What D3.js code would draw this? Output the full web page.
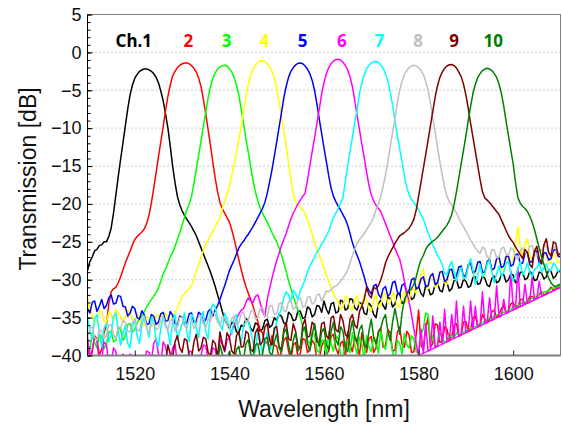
<!DOCTYPE html>
<html>

<head>
    <meta charset="utf-8">
    <style>
        body {
            margin: 0;
            background: #fff;
        }

        svg {
            display: block;
        }

        .axis text {
            font-family: 'Liberation Sans', Arial, sans-serif;
            font-size: 18px;
            fill: #111;
        }

        .axis .domain {
            display: none;
        }

        .axis-title {
            font-family: 'Liberation Sans', Arial, sans-serif;
            font-size: 23px;
            fill: #111;
        }

        .ch-label {
            font-family: 'Noto Sans', sans-serif;
            font-weight: bold;
            font-size: 17px;
        }
    </style>
</head>

<body>
    <svg width="562" height="426"></svg>

    <script src="https://cdn.jsdelivr.net/npm/d3@7"></script>

    <script>
        // spectra sampled every 0.5 nm from 1510 nm (one row = 5 nm)
        let wlStart = 1510
        let wlStep = 0.5

        let ch1 = [
            -28.8, -27.6, -27.0, -26.2, -26.0, -25.5, -25.4, -25.0, -25.0, -24.3,
            -23.2, -21.2, -18.8, -16.4, -14.1, -11.9, -9.7, -7.5, -5.6, -4.3,
            -3.4, -2.9, -2.5, -2.3, -2.2, -2.2, -2.3, -2.5, -2.8, -3.3,
            -4.0, -5.1, -6.4, -8.1, -10.0, -12.4, -15.0, -17.2, -19.0, -20.1,
            -20.9, -21.5, -22.0, -22.5, -23.0, -23.6, -24.2, -25.0, -25.8, -26.6,
            -27.4, -28.2, -29.0, -29.9, -30.9, -32.0, -33.0, -34.2, -35.2, -35.9,
            -36.4, -35.6, -35.8, -36.9, -37.0, -36.0, -36.2, -35.1, -35.5, -36.4,
            -36.8, -35.7, -35.9, -36.8, -36.5, -35.4, -35.2, -36.3, -36.0, -35.0,
            -35.4, -34.6, -34.8, -35.7, -35.9, -34.3, -34.6, -35.4, -35.3, -34.1,
            -34.2, -35.1, -35.0, -33.6, -33.8, -34.9, -34.6, -33.4, -33.5, -34.3,
            -32.8, -33.9, -34.5, -33.2, -33.0, -34.4, -34.2, -32.7, -32.9, -34.0,
            -33.8, -32.5, -32.6, -33.7, -34.0, -33.0, -33.2, -34.4, -34.6, -33.1,
            -33.5, -34.6, -35.0, -33.2, -32.7, -33.4, -33.9, -32.3, -32.5, -33.6,
            -33.2, -31.9, -31.8, -33.1, -33.0, -31.6, -31.5, -32.6, -32.4, -31.2,
            -30.9, -31.8, -32.2, -30.8, -31.0, -32.0, -31.8, -30.6, -30.5, -31.4,
            -31.6, -30.3, -30.4, -31.5, -31.2, -30.1, -30.0, -31.1, -31.0, -29.9,
            -30.2, -31.0, -30.8, -29.7, -29.6, -30.6, -30.5, -29.5, -29.8, -30.7,
            -30.9, -29.8, -29.5, -30.4, -30.2, -29.3, -29.3, -30.3, -30.0, -29.2,
            -29.4, -30.4, -30.1, -29.0, -29.0, -30.0, -29.8, -28.9, -29.2, -30.1,
            -30.0, -29.0, -29.1, -29.9, -29.6, -28.7, -28.9, -29.8, -29.5, -28.8,
            -29.0]

        let ch2 = [
            -38.5, -40.5, -39.6, -37.4, -37.8, -39.9, -39.2, -37.0, -36.0, -33.2,
            -31.6, -31.2, -31.0, -30.4, -29.6, -28.7, -27.8, -27.0, -26.2, -25.4,
            -24.7, -24.3, -24.0, -23.7, -23.3, -22.6, -21.5, -19.9, -17.9, -15.9,
            -13.8, -11.8, -9.8, -7.7, -5.8, -4.3, -3.1, -2.5, -2.0, -1.7,
            -1.5, -1.4, -1.4, -1.5, -1.75, -2.1, -2.6, -3.4, -4.5, -6.2,
            -8.1, -10.2, -12.3, -14.5, -16.6, -18.4, -19.8, -20.6, -21.2, -21.8,
            -22.4, -23.4, -24.6, -26.0, -27.4, -28.7, -29.9, -30.9, -31.8, -32.6,
            -33.5, -34.6, -35.5, -36.6, -37.0, -38.4, -38.2, -39.0, -37.4, -38.6,
            -38.8, -40.4, -39.5, -38.0, -37.6, -39.4, -40.5, -38.6, -38.3, -40.2,
            -39.7, -37.8, -37.9, -39.6, -39.2, -38.0, -38.5, -40.5, -40.5, -38.8,
            -38.0, -39.9, -39.4, -37.5, -37.2, -39.0, -39.8, -38.4, -38.1, -40.2,
            -36.9, -38.6, -39.5, -37.6, -38.4, -40.0, -37.0, -38.8, -39.6, -37.8,
            -37.5, -39.6, -39.0, -36.8, -36.4, -38.9, -38.7, -36.6, -37.0, -39.4,
            -39.3, -37.0, -36.2, -38.5, -38.9, -36.8, -37.3, -39.6, -39.5, -37.2,
            -34.0, -38.6, -39.2, -36.4, -35.0, -38.9, -38.4, -35.8, -36.0, -38.3,
            -38.2, -36.2, -36.5, -38.0, -37.5, -36.0, -35.8, -37.4, -37.2, -35.6,
            -35.5, -36.8, -36.6, -35.0, -34.8, -36.2, -36.0, -34.6, -35.2, -35.6,
            -35.3, -34.2, -34.0, -35.0, -34.6, -33.8, -33.4, -34.4, -34.0, -33.2,
            -33.0, -33.8, -33.6, -32.6, -32.6, -33.2, -33.0, -32.2, -32.2, -32.6,
            -32.4, -31.9, -31.6, -32.0, -31.8, -31.4, -31.0, -31.4, -31.2, -30.9,
            -30.8]

        let ch3 = [
            -38.2, -39.4, -37.0, -38.3, -39.0, -37.2, -37.5, -39.1, -38.6, -36.9,
            -36.8, -38.2, -38.0, -36.4, -36.5, -38.0, -37.4, -35.9, -35.8, -36.9,
            -36.6, -35.7, -35.2, -34.8, -34.2, -33.6, -33.1, -32.6, -32.2, -31.7,
            -31.1, -30.2, -29.2, -28.6, -27.8, -27.0, -26.4, -25.6, -24.7, -23.8,
            -22.8, -21.8, -20.8, -20.0, -19.0, -17.3, -15.4, -13.6, -11.7, -9.7,
            -7.9, -6.0, -4.5, -3.4, -2.7, -2.2, -1.9, -1.75, -1.7, -1.8,
            -2.15, -2.6, -3.3, -4.3, -5.7, -7.5, -9.5, -11.4, -13.2, -15.1,
            -16.9, -18.4, -19.6, -20.5, -21.2, -21.8, -22.4, -23.1, -23.8, -24.4,
            -25.0, -25.8, -26.7, -27.8, -28.9, -30.1, -31.2, -32.2, -33.1, -34.1,
            -35.0, -36.2, -36.8, -38.0, -38.5, -37.0, -37.2, -39.4, -39.6, -38.0,
            -38.0, -40.2, -36.9, -38.5, -39.4, -37.4, -37.8, -39.9, -40.5, -38.2,
            -38.2, -39.6, -37.0, -38.6, -39.8, -37.6, -38.6, -40.5, -37.4, -38.9,
            -39.5, -37.6, -38.1, -39.7, -36.8, -38.4, -39.2, -37.0, -37.6, -39.6,
            -40.5, -38.0, -38.4, -39.8, -37.1, -38.6, -39.0, -37.4, -37.8, -39.5,
            -39.8, -37.2, -36.5, -34.4, -34.6, -37.8, -37.4, -38.9, -38.6, -37.0,
            -37.6, -38.3, -38.0, -37.2, -37.5, -37.7, -37.0, -37.4, -37.3, -36.9,
            -36.8, -36.6, -36.4, -36.2, -36.2, -36.0, -35.8, -35.7, -35.5, -35.4,
            -35.0, -35.1, -34.8, -34.7, -34.5, -34.4, -34.3, -34.2, -34.0, -33.9,
            -33.6, -33.5, -33.4, -33.2, -33.0, -32.9, -32.8, -32.6, -32.4, -32.3,
            -32.2, -32.0, -31.8, -31.6, -31.6, -31.4, -31.2, -31.1, -31.0, -30.9,
            -30.8]

        let ch4 = [
            -32.4, -33.8, -34.6, -35.8, -35.4, -34.0, -34.2, -35.5, -35.6, -34.3,
            -34.5, -35.4, -33.9, -34.4, -34.8, -35.6, -35.0, -34.0, -34.3, -35.3,
            -35.6, -34.6, -34.9, -36.1, -36.0, -34.8, -35.2, -36.2, -35.8, -34.7,
            -34.6, -35.8, -35.5, -34.4, -34.9, -35.4, -34.8, -34.3, -33.7, -33.0,
            -32.2, -31.8, -31.5, -31.2, -30.8, -29.9, -28.9, -28.0, -27.0, -26.1,
            -25.3, -24.7, -24.2, -23.6, -23.0, -22.4, -21.8, -20.6, -19.6, -18.7,
            -17.6, -16.2, -14.8, -13.2, -11.5, -9.6, -7.7, -5.8, -4.2, -3.0,
            -2.2, -1.7, -1.35, -1.15, -1.1, -1.2, -1.5, -1.9, -2.5, -3.4,
            -4.7, -6.5, -8.5, -10.4, -12.3, -14.6, -16.8, -18.6, -19.8, -20.1,
            -20.4, -20.8, -21.3, -22.1, -23.0, -24.0, -25.1, -26.0, -26.8, -27.6,
            -28.5, -29.4, -30.2, -31.0, -31.8, -32.4, -32.8, -33.9, -33.6, -32.2,
            -32.4, -33.8, -34.0, -32.7, -32.1, -33.4, -33.5, -32.0, -32.6, -33.9,
            -34.2, -32.8, -32.0, -33.6, -33.4, -31.9, -31.8, -33.2, -33.0, -31.6,
            -32.3, -33.5, -33.6, -32.0, -31.6, -32.9, -32.8, -31.4, -31.2, -31.8,
            -30.4, -29.2, -28.6, -30.4, -31.2, -29.8, -29.4, -31.0, -30.8, -29.2,
            -29.0, -30.4, -30.6, -29.1, -28.8, -30.0, -29.8, -28.5, -28.4, -29.9,
            -29.6, -28.3, -27.8, -29.0, -29.2, -27.9, -28.0, -29.5, -29.4, -27.8,
            -27.5, -28.8, -28.6, -27.4, -27.2, -28.6, -28.8, -27.4, -26.8, -27.9,
            -27.6, -25.2, -23.0, -25.8, -26.8, -25.4, -24.6, -26.8, -27.4, -26.0,
            -26.2, -27.6, -28.0, -26.8, -26.6, -27.9, -27.8, -26.5, -26.9, -27.8,
            -27.5]

        let ch5 = [
            -33.8, -34.4, -33.0, -32.8, -34.2, -33.5, -32.6, -33.8, -33.4, -32.4,
            -32.0, -33.2, -33.1, -32.1, -32.2, -33.5, -33.6, -34.8, -34.4, -33.5,
            -33.8, -35.0, -35.2, -34.1, -34.6, -35.9, -35.8, -34.6, -34.8, -35.9,
            -35.6, -34.5, -34.3, -35.5, -35.4, -34.2, -34.7, -35.8, -36.0, -34.8,
            -34.9, -35.9, -35.7, -34.5, -34.4, -35.6, -35.5, -34.3, -34.6, -35.6,
            -35.3, -34.2, -33.9, -34.8, -34.0, -33.4, -32.6, -31.7, -30.8, -29.8,
            -28.8, -28.1, -27.4, -26.6, -25.8, -25.3, -24.9, -24.4, -24.0, -23.5,
            -23.0, -22.4, -21.8, -21.2, -20.6, -19.8, -18.6, -17.1, -15.5, -13.7,
            -11.8, -9.9, -8.0, -6.0, -4.5, -3.3, -2.5, -2.0, -1.65, -1.45,
            -1.4, -1.5, -1.8, -2.2, -2.8, -3.7, -5.0, -6.8, -8.8, -10.7,
            -12.6, -14.4, -16.3, -17.9, -19.0, -19.7, -20.3, -20.8, -21.4, -22.0,
            -22.8, -23.9, -25.1, -26.0, -26.8, -27.6, -28.6, -29.6, -30.8, -31.4,
            -31.9, -30.8, -30.6, -31.9, -32.4, -31.2, -30.9, -32.2, -31.8, -30.4,
            -30.2, -31.6, -32.0, -30.7, -30.5, -31.8, -31.4, -30.0, -29.8, -31.2,
            -31.0, -29.9, -29.6, -30.9, -30.8, -29.5, -29.2, -30.6, -30.4, -29.0,
            -28.9, -30.2, -30.0, -28.7, -28.6, -29.8, -29.5, -28.3, -28.2, -29.6,
            -29.4, -28.0, -27.8, -29.1, -28.9, -27.7, -27.6, -29.0, -29.0, -27.6,
            -27.3, -28.7, -28.5, -27.2, -27.0, -28.4, -28.2, -26.9, -26.9, -28.2,
            -28.0, -26.7, -26.6, -27.9, -27.8, -26.5, -26.4, -27.7, -27.6, -26.3,
            -26.2, -27.8, -27.9, -26.4, -26.5, -27.4, -27.2, -26.1, -26.0, -26.9,
            -27.0]

        let ch6 = [
            -37.5, -40.2, -39.2, -37.6, -38.0, -41.0, -40.5, -38.2, -38.6, -41.0,
            -41.0, -39.0, -39.5, -41.0, -41.0, -39.8, -40.5, -41.0, -39.8, -41.0,
            -41.0, -40.0, -40.2, -41.0, -41.0, -39.4, -39.6, -40.8, -38.4, -37.8,
            -39.8, -41.0, -38.2, -38.8, -40.6, -41.0, -39.0, -38.5, -41.0, -41.0,
            -40.2, -41.0, -41.0, -39.4, -39.5, -41.0, -41.0, -40.4, -40.0, -38.6,
            -38.8, -40.5, -40.6, -39.0, -39.2, -40.8, -37.8, -38.6, -39.5, -38.0,
            -37.6, -36.8, -36.0, -35.2, -34.5, -34.0, -33.8, -33.0, -32.4, -32.8,
            -33.0, -32.2, -32.0, -33.0, -34.2, -34.8, -32.6, -31.2, -29.8, -28.6,
            -27.5, -26.5, -25.5, -24.7, -23.9, -22.9, -22.0, -21.2, -20.6, -20.0,
            -19.5, -19.0, -18.6, -16.9, -15.0, -13.1, -11.3, -9.4, -7.5, -5.5,
            -4.0, -2.8, -2.0, -1.5, -1.15, -0.95, -0.9, -1.0, -1.3, -1.7,
            -2.3, -3.2, -4.5, -6.3, -8.3, -10.2, -12.1, -13.9, -15.8, -17.5,
            -18.8, -19.6, -20.2, -20.6, -21.0, -21.8, -22.6, -23.4, -24.2, -25.0,
            -25.9, -26.6, -27.3, -28.6, -30.2, -31.6, -33.0, -34.6, -36.5, -38.4,
            -40.0, -36.5, -39.7, -35.8, -39.4, -39.25, -34.8, -38.95, -38.8, -35.6,
            -38.5, -33.9, -38.2, -38.05, -34.6, -37.75, -32.8, -37.45, -37.3, -33.5,
            -37.0, -36.85, -32.8, -36.55, -33.5, -36.25, -36.1, -31.6, -35.8, -35.65,
            -32.4, -35.35, -35.2, -30.8, -34.9, -34.75, -32.6, -34.45, -34.3, -28.8,
            -34.0, -33.85, -28.4, -33.55, -33.4, -30.6, -33.1, -32.95, -29.6, -32.65,
            -32.5, -30.2, -32.2, -32.05, -31.9, -31.75, -31.6, -31.45, -31.3, -31.15,
            -31.0]

        let ch7 = [
            -35.0, -36.8, -37.8, -35.2, -34.6, -37.0, -38.9, -36.4, -35.8, -38.2,
            -37.2, -34.9, -34.4, -36.8, -38.6, -37.0, -36.0, -38.4, -39.0, -36.2,
            -35.2, -37.4, -38.4, -36.0, -34.8, -36.2, -37.6, -35.0, -35.6, -37.9,
            -38.8, -36.4, -34.9, -35.8, -36.8, -38.6, -35.4, -34.6, -37.9, -36.8,
            -35.8, -34.4, -37.0, -38.2, -34.6, -35.2, -36.4, -37.6, -35.0, -34.2,
            -36.9, -37.8, -34.2, -33.2, -33.6, -35.0, -35.8, -36.6, -34.4, -35.2,
            -36.2, -37.2, -35.0, -34.6, -37.4, -38.2, -36.0, -35.6, -35.4, -36.8,
            -38.2, -39.6, -36.5, -37.8, -39.8, -38.4, -37.0, -39.4, -38.6, -37.0,
            -35.5, -34.6, -33.8, -32.4, -31.6, -32.0, -32.9, -31.4, -31.9, -32.6,
            -31.4, -30.8, -30.0, -29.0, -28.2, -27.6, -27.0, -26.4, -25.9, -25.3,
            -24.8, -24.2, -23.6, -22.6, -21.8, -21.2, -20.6, -19.9, -19.2, -17.1,
            -14.9, -13.1, -11.2, -9.3, -7.6, -5.5, -4.0, -2.9, -2.2, -1.7,
            -1.4, -1.25, -1.2, -1.35, -1.65, -2.1, -2.8, -3.8, -5.2, -7.0,
            -9.0, -11.0, -12.7, -14.5, -16.3, -17.8, -18.8, -19.4, -19.8, -20.3,
            -20.8, -21.4, -22.0, -22.9, -23.8, -24.6, -25.4, -26.1, -26.8, -27.3,
            -28.0, -29.2, -29.4, -28.2, -27.6, -28.9, -30.2, -29.0, -28.4, -29.8,
            -29.8, -28.2, -27.2, -28.8, -30.6, -29.4, -28.0, -29.6, -29.2, -27.8,
            -27.4, -29.0, -30.4, -29.2, -28.2, -29.6, -29.0, -27.8, -27.6, -29.2,
            -30.2, -29.4, -28.6, -27.6, -29.4, -28.8, -27.8, -29.0, -29.6, -28.6,
            -28.4, -27.8, -29.0, -28.4, -27.9, -28.8, -28.8, -27.8, -28.2, -28.9,
            -28.6]

        let ch8 = [
            -37.5, -36.4, -36.2, -37.6, -38.0, -36.6, -36.8, -37.8, -37.4, -36.0,
            -35.9, -37.2, -37.8, -36.2, -36.4, -35.4, -35.6, -36.8, -36.9, -35.6,
            -35.4, -36.6, -36.8, -35.2, -35.0, -36.4, -37.0, -35.8, -35.6, -36.6,
            -36.4, -35.0, -34.8, -36.2, -36.6, -35.4, -35.2, -36.8, -36.2, -35.0,
            -34.9, -36.0, -36.5, -35.2, -35.3, -36.4, -36.0, -34.8, -34.7, -35.8,
            -36.3, -35.2, -35.5, -34.2, -34.6, -35.6, -36.1, -34.9, -35.0, -36.0,
            -36.2, -35.1, -34.8, -35.9, -35.7, -34.4, -34.3, -35.6, -35.4, -34.2,
            -33.9, -35.2, -35.0, -33.8, -33.6, -34.9, -34.8, -33.5, -33.4, -34.6,
            -34.5, -33.2, -33.0, -34.1, -34.2, -32.9, -32.8, -33.9, -33.6, -32.6,
            -32.4, -33.6, -33.5, -32.3, -32.2, -33.2, -33.0, -32.0, -31.9, -32.8,
            -32.2, -31.5, -31.6, -31.3, -31.0, -30.8, -30.6, -30.2, -29.8, -29.3,
            -28.8, -27.8, -26.8, -26.0, -25.2, -24.7, -24.3, -23.9, -23.4, -22.9,
            -22.4, -21.7, -20.8, -20.0, -19.0, -17.7, -16.2, -14.4, -12.5, -10.6,
            -8.7, -6.7, -5.0, -3.8, -2.9, -2.4, -2.0, -1.8, -1.7, -1.8,
            -2.0, -2.4, -2.9, -3.8, -5.0, -6.7, -8.7, -10.6, -12.5, -14.4,
            -16.2, -17.8, -19.0, -19.7, -20.2, -20.7, -21.2, -21.9, -22.5, -23.0,
            -23.6, -24.2, -24.8, -25.3, -25.8, -26.2, -26.5, -25.7, -25.9, -27.0,
            -27.2, -26.0, -26.1, -27.1, -27.0, -25.9, -25.7, -26.6, -26.8, -25.8,
            -26.0, -27.0, -27.3, -26.2, -25.8, -26.4, -26.6, -25.6, -25.5, -26.5,
            -26.9, -26.0, -26.2, -25.4, -25.6, -26.4, -26.7, -25.7, -25.9, -26.6,
            -26.4]

        let ch9 = [
            -41.0, -41.0, -41.0, -41.0, -41.0, -41.0, -41.0, -41.0, -41.0, -41.0,
            -41.0, -41.0, -41.0, -41.0, -41.0, -41.0, -41.0, -41.0, -41.0, -41.0,
            -41.0, -41.0, -41.0, -41.0, -41.0, -41.0, -41.0, -41.0, -41.0, -41.0,
            -41.0, -41.0, -41.0, -41.0, -38.6, -39.8, -40.2, -38.2, -37.4, -39.0,
            -39.6, -37.8, -38.0, -40.1, -40.4, -38.2, -37.2, -39.4, -39.0, -37.6,
            -37.8, -39.6, -40.0, -38.0, -38.4, -40.2, -36.9, -38.4, -39.4, -37.0,
            -37.6, -39.4, -39.8, -37.4, -36.8, -38.9, -38.8, -36.8, -37.1, -39.2,
            -39.5, -37.0, -36.4, -38.6, -38.2, -36.2, -35.8, -38.0, -38.6, -36.4,
            -36.2, -38.8, -39.2, -36.6, -35.6, -37.8, -38.0, -35.8, -36.8, -38.8,
            -39.0, -36.0, -35.2, -37.6, -37.4, -35.6, -36.0, -38.2, -38.4, -35.8,
            -35.6, -37.4, -37.8, -35.0, -34.8, -36.6, -36.9, -34.6, -35.4, -37.2,
            -37.6, -35.2, -34.6, -36.0, -36.4, -34.2, -33.5, -32.6, -31.0, -32.0,
            -32.4, -31.0, -31.2, -30.8, -30.0, -29.0, -27.8, -27.0, -26.4, -25.8,
            -25.2, -24.7, -24.2, -24.0, -23.8, -23.5, -23.2, -22.7, -22.0, -20.8,
            -19.0, -17.2, -15.3, -13.5, -11.6, -9.7, -7.8, -5.9, -4.4, -3.3,
            -2.6, -2.1, -1.8, -1.63, -1.6, -1.75, -2.05, -2.6, -3.2, -4.2,
            -5.6, -7.4, -9.4, -11.2, -13.1, -14.9, -16.8, -18.4, -19.2, -19.5,
            -19.8, -20.2, -20.6, -21.0, -21.4, -22.1, -22.8, -23.5, -24.2, -24.7,
            -25.1, -25.7, -26.2, -26.7, -27.2, -26.0, -26.4, -28.0, -28.4, -26.2,
            -25.6, -27.2, -27.8, -25.4, -24.6, -26.4, -26.9, -25.0, -25.2, -26.8,
            -26.5]

        let ch10 = [
            -41.0, -41.0, -41.0, -41.0, -41.0, -41.0, -41.0, -41.0, -41.0, -41.0,
            -41.0, -41.0, -41.0, -41.0, -41.0, -41.0, -41.0, -41.0, -41.0, -41.0,
            -41.0, -41.0, -41.0, -41.0, -41.0, -41.0, -41.0, -41.0, -41.0, -41.0,
            -41.0, -41.0, -41.0, -41.0, -41.0, -41.0, -41.0, -41.0, -41.0, -41.0,
            -41.0, -41.0, -41.0, -41.0, -41.0, -41.0, -41.0, -41.0, -41.0, -41.0,
            -41.0, -41.0, -41.0, -41.0, -41.0, -41.0, -38.6, -39.8, -41.0, -40.4,
            -39.5, -41.0, -41.0, -39.2, -38.8, -40.6, -40.5, -38.4, -37.9, -39.8,
            -40.2, -38.6, -38.4, -40.2, -39.8, -37.8, -37.6, -39.6, -40.0, -38.2,
            -37.2, -39.0, -39.6, -37.0, -36.5, -38.6, -40.0, -38.0, -37.0, -39.4,
            -38.9, -36.8, -36.2, -38.4, -39.4, -37.2, -35.8, -37.6, -38.8, -36.9,
            -36.4, -38.6, -39.2, -36.8, -35.6, -37.9, -38.6, -36.2, -36.8, -39.0,
            -39.5, -37.0, -35.4, -37.4, -38.2, -36.6, -36.0, -38.4, -39.0, -36.8,
            -35.2, -37.6, -38.5, -37.0, -36.4, -35.2, -34.6, -36.8, -38.0, -35.6,
            -33.8, -35.4, -37.2, -34.4, -32.6, -32.0, -31.5, -31.2, -30.6, -29.6,
            -28.4, -27.4, -26.8, -26.0, -25.5, -25.2, -24.9, -24.7, -24.4, -24.0,
            -23.6, -23.2, -22.8, -22.2, -21.4, -20.1, -18.4, -16.6, -14.7, -12.9,
            -11.0, -9.0, -7.1, -5.4, -4.2, -3.3, -2.8, -2.4, -2.2, -2.1,
            -2.2, -2.4, -2.8, -3.3, -4.2, -5.4, -7.1, -9.1, -11.0, -12.9,
            -14.7, -17.2, -19.2, -19.9, -20.3, -20.6, -21.0, -21.6, -22.4, -23.4,
            -24.6, -25.8, -27.0, -28.0, -29.0, -29.8, -30.4, -30.8, -30.9, -30.7,
            -30.6]

        // measurement floor seen at the long-wavelength end
        let floorLine = [[1580, -40], [1610, -31]]

        let channels = [ch1, ch2, ch3, ch4, ch5, ch6, ch7, ch8, ch9, ch10]
        let chColors = ["#000000", "#ff0000", "#00ff00", "#ffff00", "#0000ff",
            "#ff00ff", "#00ffff", "#c0c0c0", "#800000", "#008000"]
        let chLabels = ["Ch.1", "2", "3", "4", "5", "6", "7", "8", "9", "10"]
        let labelWl = [1519.8, 1531.3, 1539.4, 1547.4, 1555.5, 1563.8, 1571.7, 1579.9, 1587.5, 1595.8]

        let xTicks = [1520, 1540, 1560, 1580, 1600]
        let yTicks = [-40, -35, -30, -25, -20, -15, -10, -5, 0, 5]
        let gridTicks = [-35, -30, -25, -20, -15, -10, -5, 0]

        let margin = { top: 14.5, right: 1.5, bottom: 70.5, left: 87.5 }
        let width = 562
        let height = 426

        let svg = d3.select("svg")

        let x = d3.scaleLinear()
            .domain([1510, 1610])
            .range([margin.left, width - margin.right])

        let y = d3.scaleLinear()
            .domain([-40, 5])
            .range([height - margin.bottom, margin.top])

        svg.append("defs").append("clipPath")
            .attr("id", "plot-clip")
            .append("rect")
            .attr("x", margin.left)
            .attr("y", margin.top)
            .attr("width", x(1610) - x(1510))
            .attr("height", y(-40) - y(5))

        // dotted grid
        svg.append("g")
            .selectAll("line")
            .data(gridTicks)
            .join("line")
            .attr("x1", x(1510))
            .attr("x2", x(1610))
            .attr("y1", d => y(d))
            .attr("y2", d => y(d))
            .attr("stroke", "#c4c4c4")
            .attr("stroke-width", 1)
            .attr("stroke-dasharray", "1.5,2.5")

        let line = d3.line()
            .x((d, i) => x(wlStart + i * wlStep))
            .y(d => y(d))

        let traces = svg.append("g")
            .attr("clip-path", "url(#plot-clip)")

        traces.selectAll("path.trace")
            .data(channels)
            .join("path")
            .attr("class", "trace")
            .attr("fill", "none")
            .attr("stroke", (d, i) => chColors[i])
            .attr("stroke-width", 1.5)
            .attr("stroke-linejoin", "round")
            .attr("d", line)

        traces.append("path")
            .attr("fill", "none")
            .attr("stroke", chColors[5])
            .attr("stroke-width", 1.3)
            .attr("d", d3.line().x(d => x(d[0])).y(d => y(d[1]))(floorLine))

        // frame
        svg.append("rect")
            .attr("x", x(1510))
            .attr("y", y(5))
            .attr("width", x(1610) - x(1510))
            .attr("height", y(-40) - y(5))
            .attr("fill", "none")
            .attr("stroke", "#808080")
            .attr("stroke-width", 1)

        svg.append("line")
            .attr("x1", x(1510)).attr("x2", x(1610))
            .attr("y1", y(-40)).attr("y2", y(-40))
            .attr("stroke", "#808080")
            .attr("stroke-width", 2)

        svg.append("line")
            .attr("x1", x(1510)).attr("x2", x(1510))
            .attr("y1", y(5)).attr("y2", y(-40))
            .attr("stroke", "#000")
            .attr("stroke-width", 1)

        // axes
        svg.append("g")
            .attr("class", "axis")
            .attr("transform", `translate(${x(1510)},0)`)
            .call(d3.axisLeft(y).tickValues(d3.range(-40, 6, 1)).tickSize(-3).tickFormat(""))
            .call(g => g.selectAll(".tick line").attr("stroke", "#000"))

        svg.append("g")
            .attr("class", "axis")
            .attr("transform", `translate(${x(1510)},0)`)
            .call(d3.axisLeft(y).tickValues(yTicks).tickSize(-5).tickPadding(6))
            .call(g => g.selectAll(".tick line").attr("stroke", "#000"))

        svg.append("g")
            .attr("class", "axis")
            .attr("transform", `translate(0,${y(-40)})`)
            .call(d3.axisBottom(x).tickValues(xTicks).tickSize(-5).tickPadding(12).tickFormat(d3.format("d")))
            .call(g => g.selectAll(".tick line").attr("stroke", "#222"))

        // channel labels
        svg.append("g")
            .selectAll("text")
            .data(chLabels)
            .join("text")
            .attr("class", "ch-label")
            .attr("x", (d, i) => x(labelWl[i]))
            .attr("y", 47)
            .attr("text-anchor", "middle")
            .attr("fill", (d, i) => chColors[i])
            .text(d => d)

        svg.append("text")
            .attr("class", "axis-title")
            .attr("x", 324)
            .attr("y", 417)
            .attr("text-anchor", "middle")
            .text("Wavelength [nm]")

        svg.append("text")
            .attr("class", "axis-title")
            .attr("transform", "translate(36,179) rotate(-90)")
            .attr("text-anchor", "middle")
            .text("Transmission [dB]")
    </script>
</body>

</html>
